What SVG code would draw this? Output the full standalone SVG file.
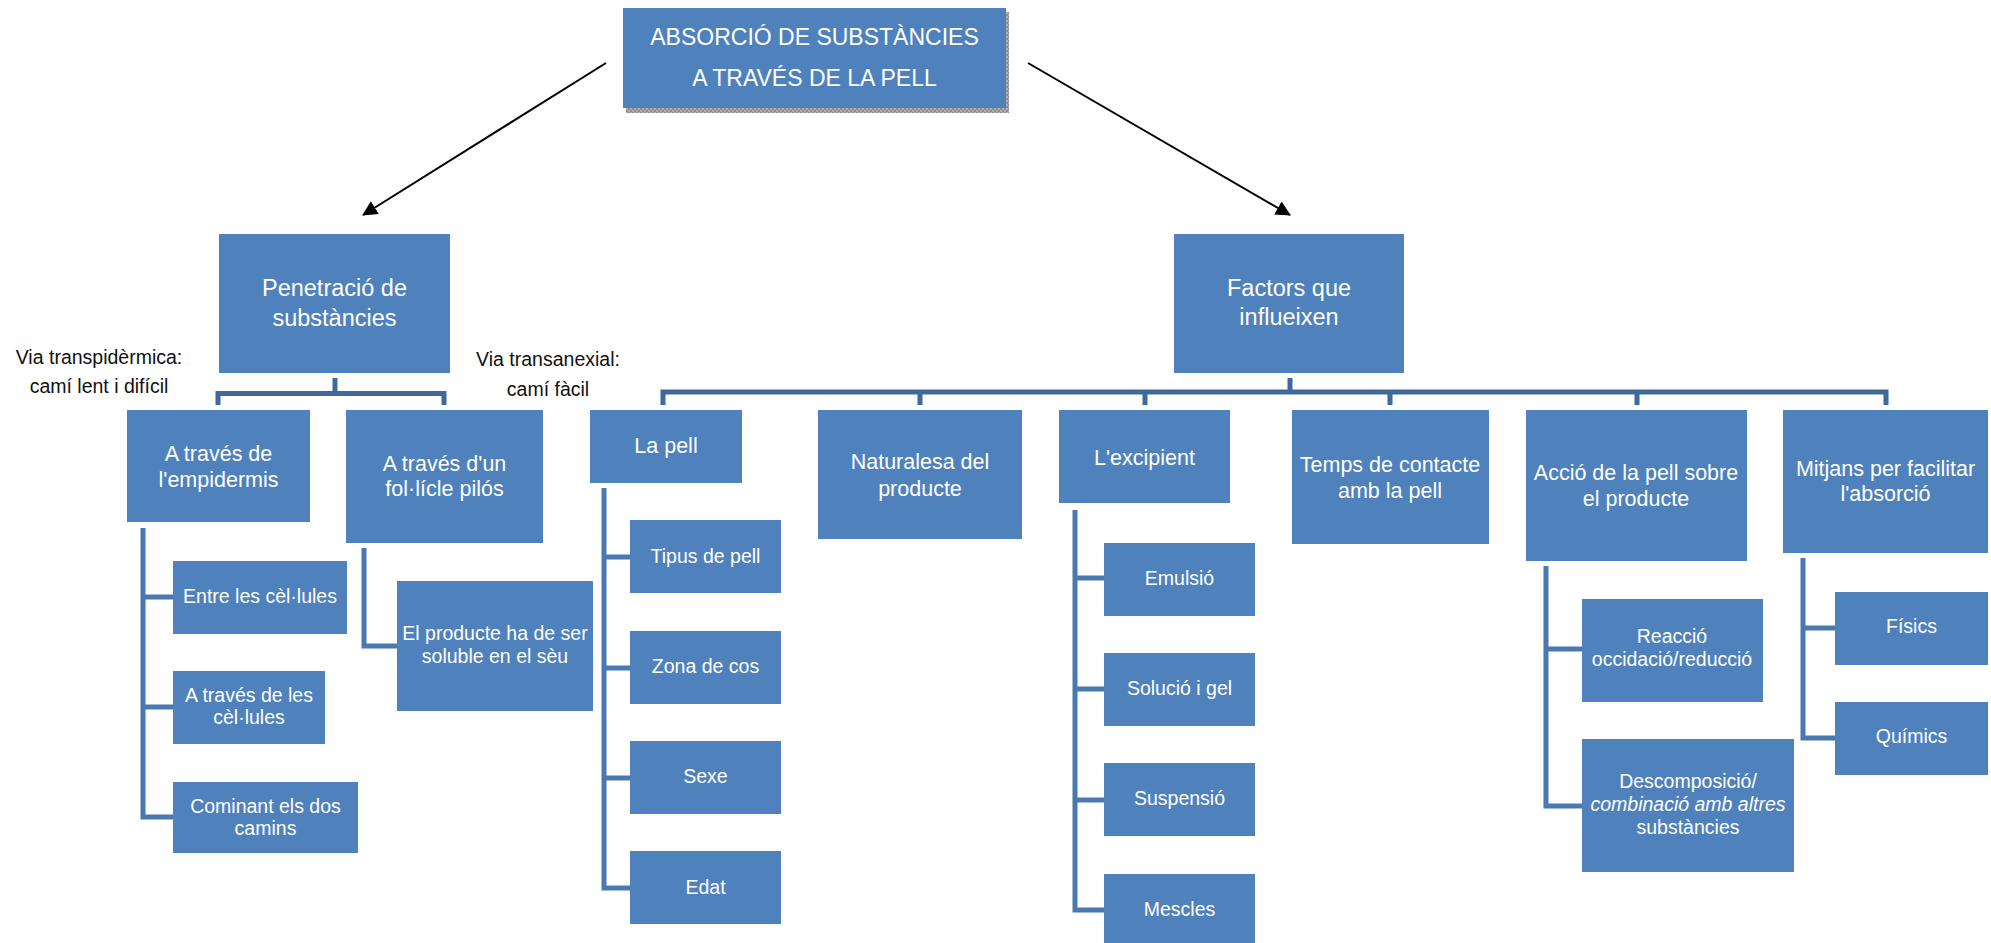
<svg xmlns="http://www.w3.org/2000/svg" width="1991" height="943" viewBox="0 0 1991 943">
<style>
.box{fill:#4f81bd}
.t{font-family:"Liberation Sans",Arial,sans-serif;fill:#fff;text-anchor:middle}
.l1{font-size:23.5px}
.l2{font-size:21.5px}
.l3{font-size:19.5px}
.via{font-family:"Liberation Sans",Arial,sans-serif;font-size:19.5px;fill:#111;text-anchor:middle}
.bar{fill:none;stroke:#40699a;stroke-width:5}
.side{fill:none;stroke:#4a78b0;stroke-width:5}
.arr{stroke:#000;stroke-width:2;fill:none}
</style>
<defs>
<pattern id="shp" width="4" height="4" patternUnits="userSpaceOnUse">
<rect width="4" height="4" fill="#b0b0b0"/>
<rect width="2" height="2" fill="#8c8c8c"/>
<rect x="2" y="2" width="2" height="2" fill="#8c8c8c"/>
</pattern>
<marker id="ah" markerUnits="userSpaceOnUse" markerWidth="15" markerHeight="16" refX="14" refY="7.5" orient="auto">
<path d="M0,0 L15,7.5 L0,15 z" fill="#000"/>
</marker>
</defs>
<rect width="1991" height="943" fill="#fff"/>

<g id="connectors">
<line class="arr" x1="606" y1="63" x2="363" y2="215" marker-end="url(#ah)"/>
<line class="arr" x1="1028" y1="63" x2="1290" y2="215" marker-end="url(#ah)"/>
<path class="bar" d="M335,378 V393"/>
<path class="bar" d="M218,405 V393.5 H444 V405"/>
<path class="bar" d="M1290,378 V392"/>
<path class="bar" d="M663,405 V392 H1886 V405"/>
<path class="bar" d="M920,392 V405 M1145,392 V405 M1390,392 V405 M1637,392 V405"/>
<path class="side" d="M143,528 V817 H173 M143,597 H173 M143,707 H173"/>
<path class="side" d="M364,548 V646 H397"/>
<path class="side" d="M604,488 V888 H630 M604,557 H630 M604,668 H630 M604,778 H630"/>
<path class="side" d="M1075,510 V910 H1104 M1075,578 H1104 M1075,689 H1104 M1075,800 H1104"/>
<path class="side" d="M1546,566 V806 H1582 M1546,649 H1582"/>
<path class="side" d="M1803,558 V738 H1835 M1803,628 H1835"/>
</g>

<g id="title">
<rect x="626" y="12" width="383" height="101" fill="url(#shp)"/>
<rect class="box" x="623" y="8" width="383" height="100"/>
<text class="t" font-size="23" x="814.5" y="45">ABSORCIÓ DE SUBSTÀNCIES</text>
<text class="t" font-size="23" x="814.5" y="86">A TRAVÉS DE LA PELL</text>
</g>

<g id="via-transpidermica">
<text class="via" x="99" y="364">Via transpidèrmica:</text>
<text class="via" x="99" y="393">camí lent i difícil</text>
</g>
<g id="via-transanexial">
<text class="via" x="548" y="366">Via transanexial:</text>
<text class="via" x="548" y="396">camí fàcil</text>
</g>

<g id="penetracio">
<rect class="box" x="219" y="234" width="231" height="139"/>
<text class="t l1" x="334.5" y="296">Penetració de</text>
<text class="t l1" x="334.5" y="326">substàncies</text>
</g>
<g id="factors">
<rect class="box" x="1174" y="234" width="230" height="139"/>
<text class="t l1" x="1289" y="296">Factors que</text>
<text class="t l1" x="1289" y="325">influeixen</text>
</g>

<g id="empidermis">
<rect class="box" x="127" y="410" width="183" height="112"/>
<text class="t l2" x="218.5" y="461">A través de</text>
<text class="t l2" x="218.5" y="487">l'empidermis</text>
</g>
<g id="follicle">
<rect class="box" x="346" y="410" width="197" height="133"/>
<text class="t l2" x="444.5" y="471">A través d'un</text>
<text class="t l2" x="444.5" y="496">fol·lícle pilós</text>
</g>
<g id="entre">
<rect class="box" x="173" y="561" width="174" height="73"/>
<text class="t l3" x="260" y="603">Entre les cèl·lules</text>
</g>
<g id="atraves-cellules">
<rect class="box" x="173" y="671" width="152" height="73"/>
<text class="t l3" x="249" y="702">A través de les</text>
<text class="t l3" x="249" y="724">cèl·lules</text>
</g>
<g id="cominant">
<rect class="box" x="173" y="782" width="185" height="71"/>
<text class="t l3" x="265.5" y="813">Cominant els dos</text>
<text class="t l3" x="265.5" y="835">camins</text>
</g>
<g id="producte-soluble">
<rect class="box" x="397" y="581" width="196" height="130"/>
<text class="t l3" x="495" y="640">El producte ha de ser</text>
<text class="t l3" x="495" y="663">soluble en el sèu</text>
</g>

<g id="lapell">
<rect class="box" x="590" y="410" width="152" height="73"/>
<text class="t l2" x="666" y="453">La pell</text>
</g>
<g id="tipus">
<rect class="box" x="630" y="520" width="151" height="73"/>
<text class="t l3" x="705.5" y="563">Tipus de pell</text>
</g>
<g id="zona">
<rect class="box" x="630" y="631" width="151" height="73"/>
<text class="t l3" x="705.5" y="673">Zona de cos</text>
</g>
<g id="sexe">
<rect class="box" x="630" y="741" width="151" height="73"/>
<text class="t l3" x="705.5" y="783">Sexe</text>
</g>
<g id="edat">
<rect class="box" x="630" y="851" width="151" height="73"/>
<text class="t l3" x="705.5" y="894">Edat</text>
</g>

<g id="naturalesa">
<rect class="box" x="818" y="410" width="204" height="129"/>
<text class="t l2" x="920" y="469">Naturalesa del</text>
<text class="t l2" x="920" y="496">producte</text>
</g>

<g id="excipient">
<rect class="box" x="1059" y="410" width="171" height="93"/>
<text class="t l2" x="1144.5" y="465">L'excipient</text>
</g>
<g id="emulsio">
<rect class="box" x="1104" y="543" width="151" height="73"/>
<text class="t l3" x="1179.5" y="585">Emulsió</text>
</g>
<g id="solucio">
<rect class="box" x="1104" y="653" width="151" height="73"/>
<text class="t l3" x="1179.5" y="695">Solució i gel</text>
</g>
<g id="suspensio">
<rect class="box" x="1104" y="763" width="151" height="73"/>
<text class="t l3" x="1179.5" y="805">Suspensió</text>
</g>
<g id="mescles">
<rect class="box" x="1104" y="874" width="151" height="69"/>
<text class="t l3" x="1179.5" y="916">Mescles</text>
</g>

<g id="temps">
<rect class="box" x="1292" y="410" width="197" height="134"/>
<text class="t l2" x="1390" y="472">Temps de contacte</text>
<text class="t l2" x="1390" y="498">amb la pell</text>
</g>

<g id="accio">
<rect class="box" x="1526" y="410" width="221" height="151"/>
<text class="t l2" x="1636" y="480">Acció de la pell sobre</text>
<text class="t l2" x="1636" y="506">el producte</text>
</g>
<g id="reaccio">
<rect class="box" x="1582" y="599" width="181" height="103"/>
<text class="t l3" x="1672" y="643">Reacció</text>
<text class="t l3" x="1672" y="666">occidació/reducció</text>
</g>
<g id="descomposicio">
<rect class="box" x="1582" y="739" width="212" height="133"/>
<text class="t l3" x="1688" y="788">Descomposició/</text>
<text class="t l3" x="1688" y="811" font-style="italic">combinació amb altres</text>
<text class="t l3" x="1688" y="834">substàncies</text>
</g>

<g id="mitjans">
<rect class="box" x="1783" y="410" width="205" height="143"/>
<text class="t l2" x="1885.5" y="476">Mitjans per facilitar</text>
<text class="t l2" x="1885.5" y="501">l'absorció</text>
</g>
<g id="fisics">
<rect class="box" x="1835" y="592" width="153" height="73"/>
<text class="t l3" x="1911.5" y="633">Físics</text>
</g>
<g id="quimics">
<rect class="box" x="1835" y="702" width="153" height="73"/>
<text class="t l3" x="1911.5" y="743">Químics</text>
</g>
</svg>
